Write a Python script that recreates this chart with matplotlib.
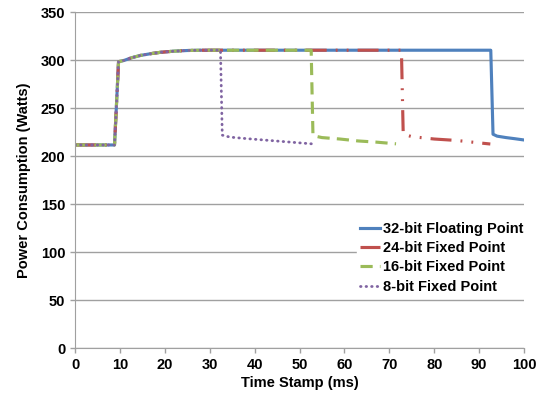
import matplotlib.pyplot as plt

plt.rcParams['font.family'] = ['Liberation Sans', 'DejaVu Sans']
plt.rcParams['font.weight'] = 'bold'

# shared start-up ramp (time ms, watts)
ramp_t = [0, 8.8, 9.7, 11, 12.5, 14.5, 17, 19, 22, 25, 28, 30]
ramp_w = [211.8, 211.8, 298.5, 300, 302.5, 305, 307, 308.3, 309.5, 310.2, 310.5, 310.5]

t32 = ramp_t + [40, 60, 80, 92.6, 93.1, 94, 96, 98, 100]
w32 = ramp_w + [310.5, 310.5, 310.5, 310.5, 223, 221, 219.5, 218.3, 217]

t24 = ramp_t + [50, 72.7, 73.1, 75, 80, 85, 90, 92.5]
w24 = ramp_w + [310.5, 310.5, 223, 220.5, 218, 216.5, 214, 212.8]

t16 = ramp_t + [40, 52.6, 53.0, 55, 59, 63, 67, 71.5]
w16 = ramp_w + [310.5, 310.5, 221.5, 219.5, 218, 216, 214.8, 213]

t8 = ramp_t + [32.4, 32.8, 34.5, 38, 42, 46, 50, 52.7]
w8 = ramp_w + [310.5, 222, 220, 218.5, 217, 215.5, 214, 213]

labels = ['32-bit Floating Point', '24-bit Fixed Point', '16-bit Fixed Point', '8-bit Fixed Point']
colors = ['#4F81BD', '#C0504D', '#9BBB59', '#8064A2']

fig = plt.figure(figsize=(5.43, 3.94), dpi=100)
ax = fig.add_axes([75 / 543, 1 - 348.3 / 394, 449 / 543, 336 / 394])

ax.plot(t32, w32, color=colors[0], lw=2.25, ls='-', label=labels[0])
ax.plot(t24, w24, color=colors[1], lw=2.25, ls=(0, (6.7, 2.9, 0.6, 2.9, 0.6, 2.9)), label=labels[1])
ax.plot(t16, w16, color=colors[2], lw=2.25, ls=(0, (3.9, 2.3)), label=labels[2])
ax.plot(t8, w8, color=colors[3], lw=2.0, ls=(0, (0.2, 1.8)), dash_capstyle='round', label=labels[3])

ax.set_xlim(0, 100)
ax.set_ylim(0, 350)
ax.set_xticks(range(0, 101, 10))
ax.set_yticks(range(0, 351, 50))
ax.grid(axis='y', color='#A0A0A0', lw=1)
ax.set_axisbelow(True)
for s in ['top', 'right']:
    ax.spines[s].set_visible(False)
for s in ['left', 'bottom']:
    ax.spines[s].set_color('#A0A0A0')
ax.tick_params(axis='both', labelsize=10.5, color='#A0A0A0', length=3.5, width=1)
for lab in ax.get_xticklabels() + ax.get_yticklabels():
    lab.set_fontweight('bold')

ax.set_xlabel('Time Stamp (ms)', fontsize=10.5, fontweight='bold', labelpad=3)
ax.set_ylabel('Power Consumption (Watts)', fontsize=10.5, fontweight='bold', labelpad=7)

leg = ax.legend(loc='upper left', bbox_to_anchor=(357 / 543, 1 - 219 / 394),
                bbox_transform=fig.transFigure, frameon=True, facecolor='white',
                edgecolor='white', framealpha=1, fontsize=10.5, handlelength=1.35,
                handletextpad=0.2, labelspacing=0.36, borderpad=0.2, borderaxespad=0)
for t in leg.get_texts():
    t.set_fontweight('bold')

fig.savefig('out.png', dpi=100)
